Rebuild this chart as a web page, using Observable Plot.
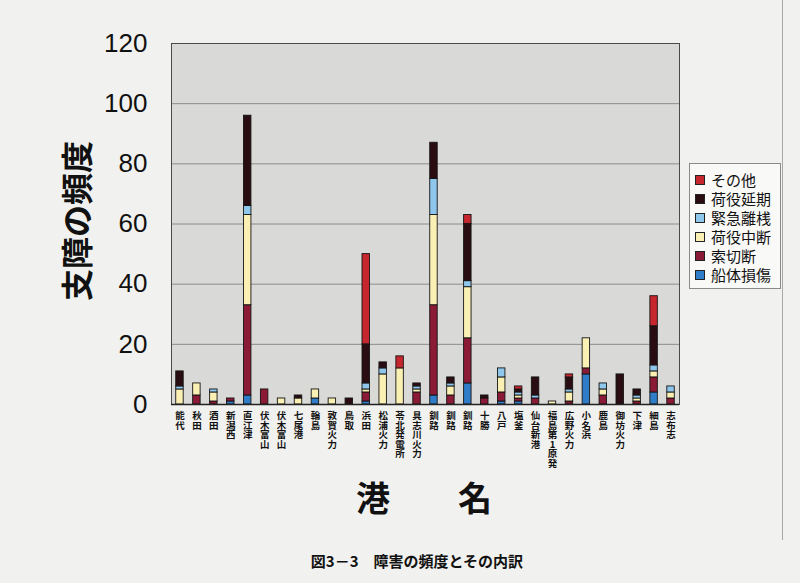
<!DOCTYPE html>
<html><head><meta charset="utf-8">
<script src="https://cdn.jsdelivr.net/npm/d3@7"></script>
<script src="https://cdn.jsdelivr.net/npm/@observablehq/plot@0.6"></script>
<style>
html,body{margin:0;padding:0;background:#f1f1ef;}
#wrap{position:relative;width:800px;height:583px;overflow:hidden;font-family:"Noto Sans CJK JP",sans-serif;}
#chart{position:absolute;left:0;top:0;}
.abs{position:absolute;white-space:nowrap;color:#111;}
#ytitle{left:75px;top:221px;font-size:32px;font-weight:700;transform:translate(-50%,-50%) rotate(-90deg);}
#xtitle{left:424px;top:496px;font-size:34px;font-weight:700;transform:translate(-50%,-50%);}
#caption{left:417px;top:560px;font-size:15px;font-weight:700;transform:translate(-50%,-50%);}
#legend{left:689px;top:163px;width:92px;height:126px;background:#f9f9f8;border:1px solid #8a8a8a;box-sizing:border-box;padding-top:6px;}
.li{display:flex;align-items:center;height:19px;font-size:15px;color:#111;}
.sw{width:8px;height:8px;border:1px solid #222;margin-left:5px;margin-right:6px;flex:none;}
#border{left:782px;top:0;width:1px;height:540px;background:#a8a8a8;}
</style></head>
<body><div id="wrap"><div id="chart"></div>
<div class="abs" id="ytitle">支障の頻度</div>
<div class="abs" id="xtitle">港　　名</div>
<div class="abs" id="caption">図3－3　障害の頻度とその内訳</div>
<div class="abs" id="legend"></div>
<div class="abs" id="border"></div>
</div>
<script>
const ports = ["能代","秋田","酒田","新潟西","直江津","伏木富山","伏木富山","七尾港","輪島","敦賀火力","鳥取","浜田","松浦火力","苓北発電所","具志川火力","釧路","釧路","釧路","十勝","八戸","塩釜","仙台新港","福島第1原発","広野火力","小名浜","鹿島","御坊火力","下津","細島","志布志"];
const seriesNames = ["船体損傷","索切断","荷役中断","緊急離桟","荷役延期","その他"];
const seriesColors = ["#2f7dc9","#8a1a36","#fbf0b4","#8fc6ec","#2a0d12","#c6262e"];
const hull     = [0,0,0,1,3,0,0,0,2,0,0,1,0,0,0,3,0,7,0,1,1,0,0,0,10,0,0,0,4,0];
const rope     = [0,3,1,1,30,5,0,0,0,0,0,3,0,0,4,30,3,15,2,3,1,2,0,1,2,3,0,1,5,2];
const cargoStop= [5,4,3,0,30,0,2,2,3,2,0,1,10,12,1,30,3,17,0,5,1,0,1,3,10,2,0,1,2,2];
const emergency= [1,0,1,0,3,0,0,0,0,0,0,2,2,0,1,12,1,2,0,3,1,1,0,1,0,2,0,1,2,2];
const cargoDelay=[5,0,0,0,30,0,0,1,0,0,2,13,2,0,1,12,2,19,1,0,1,6,0,4,0,0,10,2,13,0];
const other    = [0,0,0,0,0,0,0,0,0,0,0,30,0,4,0,0,0,3,0,0,1,0,0,1,0,0,0,0,10,0];
const yTicks = [0,20,40,60,80,100,120];

const seriesValues = [hull, rope, cargoStop, emergency, cargoDelay, other];
const data = [];
seriesNames.forEach((s, k) => {
  seriesValues[k].forEach((v, i) => { if (v > 0) data.push({i, s, v}); });
});
const idx = ports.map((_, i) => i);

const chart = Plot.plot({
  width: 800, height: 583,
  marginLeft: 171, marginRight: 121, marginTop: 43, marginBottom: 179,
  style: {background: "transparent", fontFamily: "'Noto Sans CJK JP', sans-serif", color: "#111"},
  x: {type: "band", domain: idx, paddingInner: 0.56, paddingOuter: 0.28, round: false, label: null},
  y: {domain: [0, 120], label: null},
  color: {domain: seriesNames, range: seriesColors},
  marks: [
    Plot.frame({fill: "#d9d9d7", stroke: null}),
    Plot.ruleY(yTicks.filter(t => t > 0 && t < 120), {stroke: "#8c8c8c", strokeWidth: 1}),
    Plot.barY(data, {x: "i", y: "v", fill: "s", order: seriesNames, stroke: "#141414", strokeWidth: 0.9}),
    Plot.frame({stroke: "#4a4a4a", strokeWidth: 1}),
    Plot.ruleY([0], {stroke: "#222", strokeWidth: 1.6}),
    Plot.axisY({ticks: yTicks, tickSize: 0, tickPadding: 24, fontSize: 26, fontFamily: "'Liberation Sans', Arial, sans-serif", label: null}),
    Plot.axisX({tickSize: 0, tickPadding: 8, fontSize: 9.5, fontWeight: 700, lineHeight: 1, tickFormat: i => ports[i].split("").join("\n"), label: null})
  ]
});
document.getElementById("chart").appendChild(chart);

const legend = document.getElementById("legend");
for (let k = seriesNames.length - 1; k >= 0; k--) {
  const row = document.createElement("div");
  row.className = "li";
  row.innerHTML = `<span class="sw" style="background:${seriesColors[k]}"></span><span>${seriesNames[k]}</span>`;
  legend.appendChild(row);
}
</script></body></html>
